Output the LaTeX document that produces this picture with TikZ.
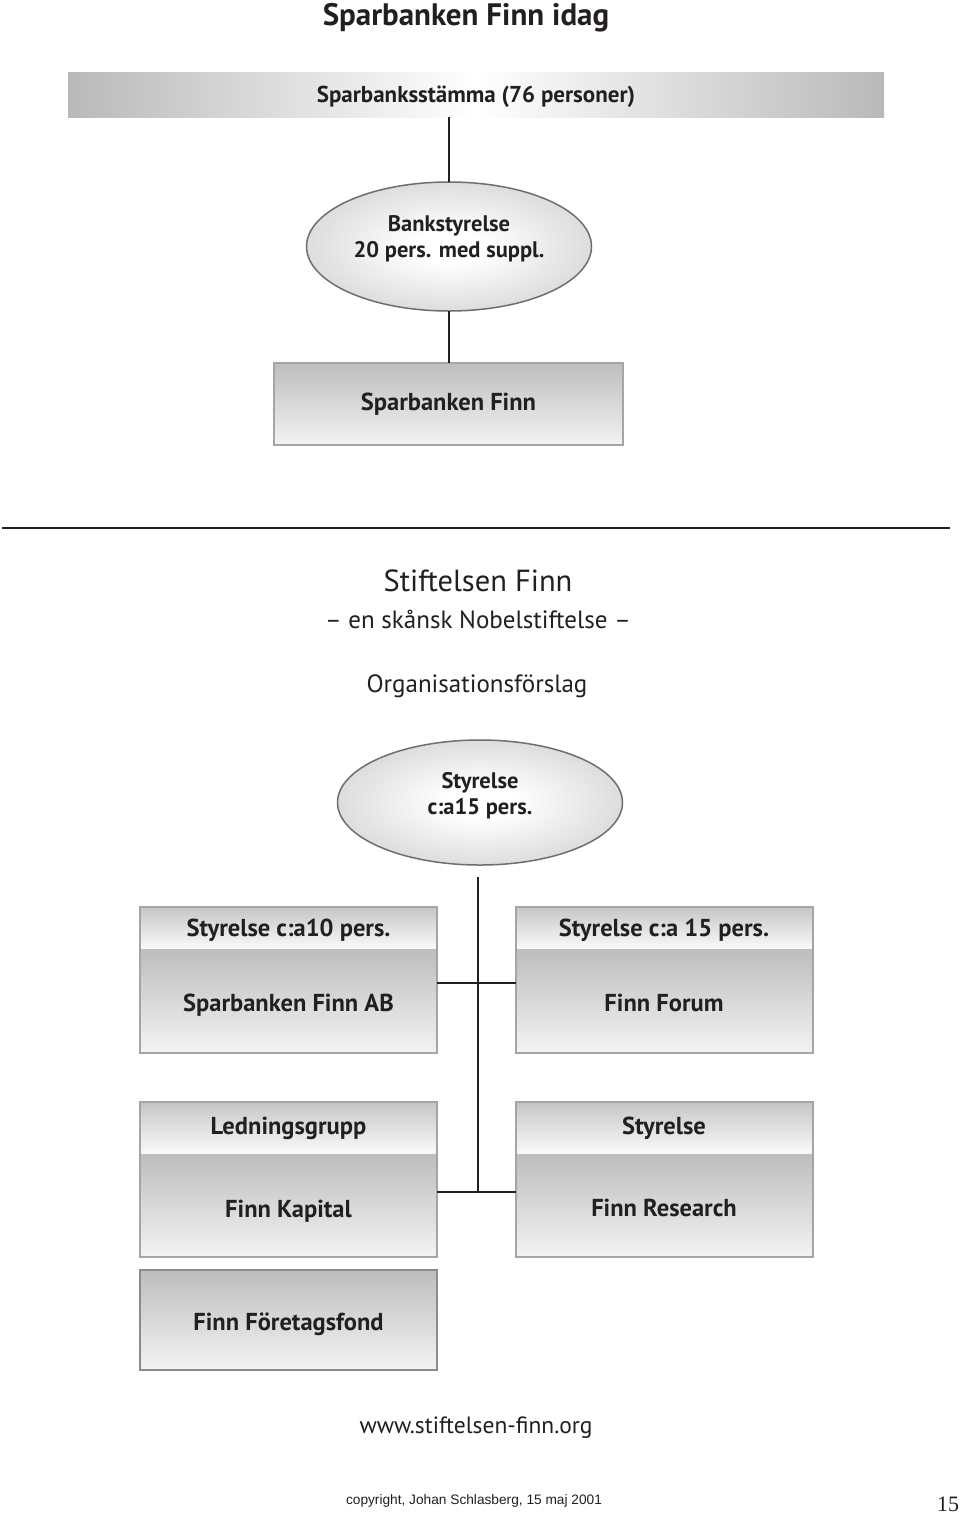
\documentclass[tikz,border=0pt]{standalone}
\usepackage{fontspec}
\setmainfont{PT Sans}
\newfontfamily\cpf{Liberation Sans}
\newfontfamily\serf{Liberation Serif}
\usetikzlibrary{shapes.geometric}
\definecolor{txt}{HTML}{231F20}
\definecolor{barg}{HTML}{B9B9B9}
\definecolor{ellg}{HTML}{B0B0B0}
\definecolor{ellb}{HTML}{6E6E6E}
\definecolor{boxb}{HTML}{A5A5A5}
\definecolor{gtop}{HTML}{BDBDBD}
\definecolor{gbot}{HTML}{F3F3F3}
\definecolor{htop}{HTML}{C6C6C6}
\definecolor{hbot}{HTML}{FAFAFA}
\pgfdeclareradialshading{ellsh}{\pgfpoint{0bp}{0bp}}{color(0bp)=(white); color(6bp)=(white); color(50bp)=(ellg); color(72bp)=(ellg)}
\tikzset{
  conn/.style={draw=txt, line width=2pt},
  bigtxt/.style={font=\bfseries\fontsize{31}{34}\selectfont},
  plain/.style={font=\fontsize{25}{28}\selectfont},
  bar/.style={minimum width=816pt, minimum height=45pt, left color=barg, right color=barg, middle color=white},
  ell/.style={ellipse, draw=ellb, line width=1.5pt, shading=ellsh, minimum width=285pt},
  elltxt/.style={align=center, font=\bfseries\fontsize{22.5}{26}\selectfont},
  gbox/.style={draw=boxb, line width=2pt, top color=gtop, bottom color=gbot},
  hdr/.style={minimum width=297pt, top color=htop, bottom color=hbot},
  body/.style={minimum width=297pt, top color=gtop, bottom color=gbot},
  boxline/.style={draw=boxb, line width=2pt}
}
\begin{document}
\begin{tikzpicture}[x=1pt,y=-1pt,
  every node/.style={inner sep=0pt, outer sep=0pt, text=txt, font=\bfseries\fontsize{24.5}{28}\selectfont}]
\useasboundingbox[fill=white] (0,0) rectangle (960,1516);

\node[bigtxt] (title) at (466,18) {Sparbanken Finn idag};
\node[bar, label={[font=\bfseries\fontsize{23}{26}\selectfont, text=txt, yshift=-2pt]center:Sparbanksstämma (76 personer)}] (stamma) at (476,94.5) {};

\node[ell, minimum height=129pt, label={[elltxt, yshift=8pt]center:Bankstyrelse\\20 pers. med suppl.}] (bank) at (449,246.5) {};
\node[gbox, minimum width=349pt, minimum height=82pt] (sf) at (448.5,404) {Sparbanken Finn};

\draw[conn] (bank.north |- stamma.south) -- (bank.north);
\draw[conn] (bank.south) -- (bank.south |- sf.north);

\draw[txt, line width=2pt] (2,528) -- (950,528);

\node[font=\fontsize{30.5}{34}\selectfont] (stift) at (478,581) {Stiftelsen Finn};
\node[plain] (nobel) at (478,619) {– en skånsk Nobelstiftelse –};
\node[plain] (org) at (477,686) {Organisationsförslag};

\node[ell, minimum height=125pt, label={[elltxt, yshift=7pt]center:Styrelse\\c:a15 pers.}] (sty) at (480,802.5) {};

% row 1
\node[hdr, minimum height=42pt, label={[yshift=-2pt]center:Styrelse c:a10 pers.}] (h1) at (288.5,928) {};
\node[body, minimum height=104pt, label={[yshift=-4pt]center:Sparbanken Finn AB}] (b1) at (288.5,1001) {};
\draw[boxline] (h1.north west) rectangle (b1.south east);
\node[hdr, minimum height=42pt, label={[yshift=-2pt]center:Styrelse c:a 15 pers.}] (h2) at (664,928) {};
\node[body, minimum height=104pt, label={[yshift=-2pt]center:Finn Forum}] (b2) at (664,1001) {};
\draw[boxline] (h2.north west) rectangle (b2.south east);

% row 2
\node[hdr, minimum height=52pt] (h3) at (288.5,1128) {Ledningsgrupp};
\node[body, minimum height=103pt, label={[yshift=-6pt]center:Finn Kapital}] (b3) at (288.5,1205.5) {};
\draw[boxline] (h3.north west) rectangle (b3.south east);
\node[hdr, minimum height=52pt] (h4) at (664,1128) {Styrelse};
\node[body, minimum height=103pt, label={[yshift=-2pt]center:Finn Research}] (b4) at (664,1205.5) {};
\draw[boxline] (h4.north west) rectangle (b4.south east);

\node[gbox, draw=ellb!80, minimum width=297pt, minimum height=100pt, label={[yshift=-4pt]center:Finn Företagsfond}] (ff) at (288.5,1320) {};

% connectors
\coordinate (vtop) at (478,877);
\coordinate (r1) at ([yshift=18pt]b1.east);
\coordinate (r2) at ([yshift=13.5pt]b3.east);
\draw[conn] (vtop) -- (vtop |- r2);
\draw[conn] (r1) -- (r1 -| b2.west);
\draw[conn] (r2) -- (r2 -| b4.west);

% footer
\node[font=\fontsize{23.5}{27}\selectfont] (www) at (476,1428) {www.stiftelsen-finn.org};
\node[font=\cpf\fontsize{13.7}{16}\selectfont] (copy) at (474,1501) {copyright, Johan Schlasberg, 15 maj 2001};
\node[font=\serf\fontsize{22}{24}\selectfont] (pg) at (948,1504) {15};
\end{tikzpicture}
\end{document}
